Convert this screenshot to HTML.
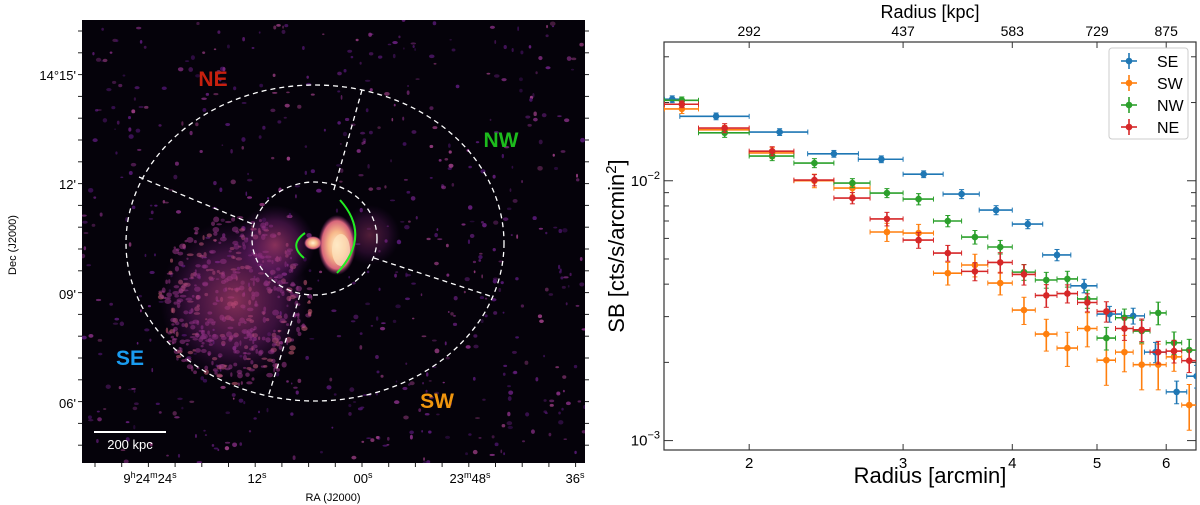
<!DOCTYPE html>
<html><head><meta charset="utf-8">
<style>
html,body{margin:0;padding:0;background:#fff;width:1200px;height:505px;overflow:hidden;font-family:"Liberation Sans","DejaVu Sans",sans-serif}
svg{position:absolute;left:0;top:0}
</style></head>
<body>
<svg id="img" width="620" height="505" viewBox="0 0 620 505" style="left:0;top:0">
  <defs>
    <radialGradient id="core" cx="50%" cy="50%" r="50%">
      <stop offset="0" stop-color="#fff2d0"/>
      <stop offset="0.45" stop-color="#f7b889"/>
      <stop offset="0.8" stop-color="#d8667a"/>
      <stop offset="1" stop-color="#8a2a7a" stop-opacity="0"/>
    </radialGradient>
    <radialGradient id="diff" cx="50%" cy="50%" r="50%">
      <stop offset="0" stop-color="#b04070" stop-opacity="0.75"/>
      <stop offset="0.6" stop-color="#7a2278" stop-opacity="0.45"/>
      <stop offset="1" stop-color="#4a1060" stop-opacity="0"/>
    </radialGradient>
    <clipPath id="frameclip"><rect x="82" y="20" width="503" height="443"/></clipPath>
  </defs>
  <rect x="82" y="20" width="503" height="443" fill="#05020a"/>
  <g id="speckles" clip-path="url(#frameclip)"></g>
  <g clip-path="url(#frameclip)">
    <ellipse cx="235" cy="300" rx="75" ry="80" fill="url(#diff)"/>
    <ellipse cx="275" cy="245" rx="40" ry="40" fill="url(#diff)"/>
    <ellipse cx="370" cy="235" rx="30" ry="30" fill="url(#diff)" opacity="0.6"/>
    <ellipse cx="337" cy="245" rx="19" ry="30" fill="url(#core)"/>
    <ellipse cx="341" cy="250" rx="9" ry="16" fill="#fde6c0" opacity="0.7"/>
    <ellipse cx="313" cy="243" rx="9" ry="7" fill="url(#core)"/>
  </g>
  <g fill="none" stroke="#fff" stroke-width="1.3" stroke-dasharray="5,4">
    <ellipse cx="315" cy="243" rx="189" ry="158"/>
    <ellipse cx="314.5" cy="238.5" rx="62.5" ry="56.5"/>
    <line x1="362" y1="90" x2="333" y2="193"/>
    <line x1="139" y1="177" x2="255" y2="225"/>
    <line x1="374" y1="258" x2="490" y2="296"/>
    <line x1="300" y1="295" x2="268" y2="397"/>
  </g>
  <g fill="none" stroke="#22ee22" stroke-width="2">
    <path d="M340,200 Q372,236 337,273"/>
    <path d="M305,233 Q288,245 304,258"/>
  </g>
  <g font-weight="bold" font-size="21" text-anchor="middle">
    <text x="213" y="86" fill="#c8200e">NE</text>
    <text x="501" y="147" fill="#1dbb1d">NW</text>
    <text x="130" y="365" fill="#1a9cf0">SE</text>
    <text x="437" y="408" fill="#f0960e">SW</text>
  </g>
  <line x1="94" y1="432" x2="166" y2="432" stroke="#fff" stroke-width="2"/>
  <text x="130" y="449" fill="#fff" font-size="13" text-anchor="middle">200 kpc</text>
  <g id="imgticks" stroke="#222" stroke-width="1"></g>
  <g font-size="13" fill="#000" text-anchor="end">
    <text x="76" y="80">14°15'</text>
    <text x="76" y="189">12'</text>
    <text x="76" y="299">09'</text>
    <text x="76" y="408">06'</text>
  </g>
  <g font-size="13" fill="#000" text-anchor="middle">
    <text x="150" y="483">9<tspan font-size="9" dy="-5">h</tspan><tspan dy="5">24</tspan><tspan font-size="9" dy="-5">m</tspan><tspan dy="5">24</tspan><tspan font-size="9" dy="-5">s</tspan></text>
    <text x="257" y="483">12<tspan font-size="9" dy="-5">s</tspan></text>
    <text x="363" y="483">00<tspan font-size="9" dy="-5">s</tspan></text>
    <text x="470" y="483">23<tspan font-size="9" dy="-5">m</tspan><tspan dy="5">48</tspan><tspan font-size="9" dy="-5">s</tspan></text>
    <text x="575" y="483">36<tspan font-size="9" dy="-5">s</tspan></text>
    <text x="333" y="501" font-size="11">RA (J2000)</text>
  </g>
  <text transform="translate(16,245) rotate(-90)" font-size="11" text-anchor="middle">Dec (J2000)</text>
</svg>

<svg id="chart" width="1200" height="505" viewBox="0 0 1200 505" style="left:0;top:0;pointer-events:none"></svg>

<script>
// ---------- chart data ----------
const seRadius = [1.633,1.833,2.167,2.5,2.833,3.167,3.5,3.833,4.167,4.5,4.833,5.167,5.5,5.833,6.167,6.5];
const seHalfWidth = [0.033,0.167,0.167,0.167,0.167,0.167,0.167,0.167,0.167,0.167,0.167,0.167,0.167,0.167,0.167,0.167];
const seSB = [0.0206,0.0177,0.0154,0.0127,0.0121,0.0106,0.00889,0.00771,0.00681,0.00518,0.00394,0.00307,0.00302,0.00219,0.00154,0.00177];
const seErr = [0.03,0.03,0.03,0.03,0.03,0.03,0.04,0.04,0.04,0.05,0.06,0.07,0.07,0.09,0.1,0.1];

const otherRadius = [1.675,1.875,2.125,2.375,2.625,2.875,3.125,3.375,3.625,3.875,4.125,4.375,4.625,4.875,5.125,5.375,5.625,5.875,6.125,6.375];
const otherHalfWidth = [0.075,0.125,0.125,0.125,0.125,0.125,0.125,0.125,0.125,0.125,0.125,0.125,0.125,0.125,0.125,0.125,0.125,0.125,0.125,0.125];
const swSB = [0.0189,0.0157,0.0128,0.0100,0.00937,0.00635,0.00629,0.00441,0.00474,0.00404,0.00318,0.00257,0.00227,0.0027,0.00204,0.00219,0.00196,0.00196,0.0021,0.00137];
const swErr = [0.04,0.04,0.05,0.06,0.06,0.08,0.08,0.1,0.1,0.1,0.12,0.14,0.15,0.15,0.2,0.16,0.2,0.2,0.12,0.2];
const nwSB = [0.0204,0.0153,0.01245,0.0117,0.0098,0.00897,0.0085,0.0070,0.00607,0.00556,0.00445,0.00415,0.00419,0.00351,0.00248,0.00297,0.00264,0.0031,0.00238,0.00223];
const nwErr = [0.03,0.04,0.04,0.04,0.04,0.04,0.05,0.05,0.06,0.06,0.07,0.07,0.07,0.08,0.1,0.08,0.1,0.1,0.1,0.1];
const neSB = [0.0197,0.01595,0.0130,0.01006,0.00858,0.00713,0.00591,0.00527,0.00448,0.00485,0.00436,0.00362,0.00368,0.0034,0.00314,0.0027,0.00267,0.00219,0.00221,0.00203];
const neErr = [0.03,0.04,0.04,0.05,0.05,0.06,0.07,0.07,0.08,0.09,0.09,0.1,0.08,0.08,0.09,0.1,0.1,0.1,0.1,0.1];

const seriesNames = ["SE","SW","NW","NE"];
const seriesColors = ["#1f77b4","#ff7f0e","#2ca02c","#d62728"];
const xTickValues = [2,3,4,5,6];
const xTickLabels = ["2","3","4","5","6"];
const kpcTickLabels = ["292","437","583","729","875"];

// ---------- axes ----------
const L=664,R=1196,T=42,B=450;
const xMin=1.598,xMax=6.49,yMin=0.00092,yMax=0.0342;
const xs=v=>L+(Math.log10(v)-Math.log10(xMin))/(Math.log10(xMax)-Math.log10(xMin))*(R-L);
const ys=v=>B-(Math.log10(v)-Math.log10(yMin))/(Math.log10(yMax)-Math.log10(yMin))*(B-T);

const NS="http://www.w3.org/2000/svg";
const svg=document.getElementById('chart');
function mk(tag,attrs,parent){const e=document.createElementNS(NS,tag);for(const k in attrs)e.setAttribute(k,attrs[k]);(parent||svg).appendChild(e);return e;}

const frame=mk('rect',{x:L,y:T,width:R-L,height:B-T,fill:'none',stroke:'#333','stroke-width':1.2});



xTickValues.forEach((v,i)=>{
  const x=xs(v);
  mk('line',{x1:x,y1:B,x2:x,y2:B-6,stroke:'#333'});
  mk('line',{x1:x,y1:T,x2:x,y2:T+6,stroke:'#333'});
  const t=mk('text',{x:x,y:B+18,'font-size':15,'text-anchor':'middle'});
  t.textContent=xTickLabels[i];
  
  
  const k=mk('text',{x:x,y:T-6,'font-size':14,'text-anchor':'middle'});
  k.textContent=kpcTickLabels[i];
  
  
});
for(let d=-4;d<=-1;d++){
  for(let m=1;m<10;m++){
    const v=m*Math.pow(10,d);
    if(v<yMin||v>yMax)continue;
    const y=ys(v), len=m===1?9:5;
    mk('line',{x1:L,y1:y,x2:L+len,y2:y,stroke:'#333'});
    mk('line',{x1:R,y1:y,x2:R-len,y2:y,stroke:'#333'});
    if(m===1){
      const t=mk('text',{x:L-4,y:y+5,'font-size':15,'text-anchor':'end'});
      t.innerHTML='10<tspan font-size="11" dy="-7">−'+(-d)+'</tspan>';
      
      
    }
  }
}
const xt=mk('text',{x:930,y:483,'font-size':22,'text-anchor':'middle'});
xt.textContent='Radius [arcmin]';


const tt=mk('text',{x:930,y:18,'font-size':18,'text-anchor':'middle'});
tt.textContent='Radius [kpc]';


const yt=mk('text',{x:0,y:0,'font-size':22,'text-anchor':'middle',transform:'translate(624,246) rotate(-90)'});
yt.innerHTML='SB [cts/s/arcmin<tspan font-size="15" dy="-8">2</tspan><tspan dy="8">]</tspan>';



const clip=mk('clipPath',{id:'pc'});mk('rect',{x:L,y:T,width:R-L,height:B-T},clip);
const seriesData=[
  [seRadius,seHalfWidth,seSB,seErr],
  [otherRadius,otherHalfWidth,swSB,swErr],
  [otherRadius,otherHalfWidth,nwSB,nwErr],
  [otherRadius,otherHalfWidth,neSB,neErr]];
seriesData.forEach((s,si)=>{
  const g=mk('g',{'clip-path':'url(#pc)',stroke:seriesColors[si],fill:seriesColors[si],'stroke-width':1.6});
  
  
  const [rx,hw,sb,er]=s;
  rx.forEach((r,i)=>{
    const x=xs(r),y=ys(sb[i]),x1=xs(r-hw[i]),x2=xs(r+hw[i]),y1=ys(sb[i]*(1+er[i])),y2=ys(sb[i]*(1-er[i]));
    mk('line',{x1:x1,y1:y,x2:x2,y2:y},g);
    mk('line',{x1:x1,y1:y-2.5,x2:x1,y2:y+2.5,'stroke-width':1},g);
    mk('line',{x1:x2,y1:y-2.5,x2:x2,y2:y+2.5,'stroke-width':1},g);
    mk('line',{x1:x,y1:y1,x2:x,y2:y2},g);
    mk('line',{x1:x-2.5,y1:y1,x2:x+2.5,y2:y1,'stroke-width':1},g);
    mk('line',{x1:x-2.5,y1:y2,x2:x+2.5,y2:y2,'stroke-width':1},g);
    const c=mk('circle',{cx:x,cy:y,r:3.3,stroke:'none'},g);
    
    
  });
});
const lg=mk('g',{});


mk('rect',{x:1109,y:48,width:79,height:91,rx:3,fill:'#fff',stroke:'#ccc'},lg);
seriesNames.forEach((n,i)=>{
  const y=61+i*22, c=seriesColors[i];
  const e=mk('g',{stroke:c,fill:c,'stroke-width':1.6},lg);
  
  
  mk('line',{x1:1121,y1:y,x2:1137,y2:y},e);
  mk('line',{x1:1129,y1:y-8,x2:1129,y2:y+8},e);
  mk('circle',{cx:1129,cy:y,r:3.3,stroke:'none'},e);
  const t=mk('text',{x:1157,y:y+6,'font-size':16,fill:'#000',stroke:'none'},e);
  t.textContent=n;
});

// ---------- image texture (decorative speckle, seeded) ----------
(function(){
  const g=document.getElementById('speckles');
  let s=12345;const rnd=()=>{s=(s*16807)%2147483647;return s/2147483647;};
  const cols=['#4a1468','#6a2080','#8a3088','#5a1a78','#a04088'];
  for(let i=0;i<650;i++){
    const x=82+rnd()*503,y=20+rnd()*443;
    const e=document.createElementNS(NS,'ellipse');
    e.setAttribute('cx',x);e.setAttribute('cy',y);
    e.setAttribute('rx',0.8+rnd()*2);e.setAttribute('ry',0.8+rnd()*1.6);
    e.setAttribute('fill',cols[Math.floor(rnd()*cols.length)]);
    e.setAttribute('opacity',0.4+rnd()*0.5);
    g.appendChild(e);
  }
  for(let i=0;i<450;i++){
    const a=rnd()*Math.PI*2,r=Math.sqrt(rnd())*85;
    const e=document.createElementNS(NS,'ellipse');
    e.setAttribute('cx',235+Math.cos(a)*r*0.9);e.setAttribute('cy',300+Math.sin(a)*r);
    e.setAttribute('rx',1+rnd()*2.5);e.setAttribute('ry',1+rnd()*2);
    e.setAttribute('fill',rnd()<0.3?'#d0607a':'#9a3888');
    e.setAttribute('opacity',0.55);
    g.appendChild(e);
  }
  const tk=document.getElementById('imgticks');
  for(let x=95;x<585;x+=26.7){const l=document.createElementNS(NS,'line');l.setAttribute('x1',x);l.setAttribute('x2',x);l.setAttribute('y1',463);l.setAttribute('y2',467);tk.appendChild(l);}
  for(let y=31;y<463;y+=21.8){const l=document.createElementNS(NS,'line');l.setAttribute('x1',78);l.setAttribute('x2',82);l.setAttribute('y1',y);l.setAttribute('y2',y);tk.appendChild(l);
    const r=document.createElementNS(NS,'line');r.setAttribute('x1',585);r.setAttribute('x2',589);r.setAttribute('y1',y);r.setAttribute('y2',y);tk.appendChild(r);}
})();
</script>
</body></html>
